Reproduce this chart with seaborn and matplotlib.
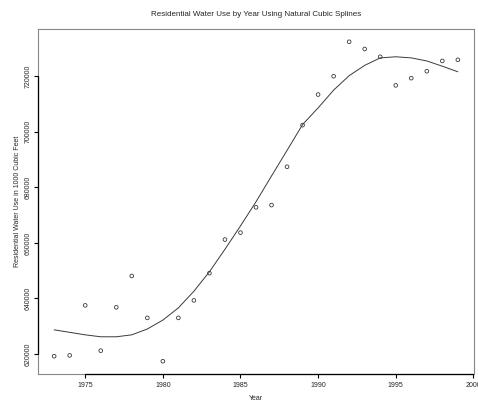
import numpy as np
import pandas as pd
import seaborn as sns
import matplotlib
matplotlib.use("Agg")
import matplotlib.pyplot as plt

# Residential water use (1000 cubic feet) by year
years = [1973, 1974, 1975, 1976, 1977, 1978, 1979, 1980, 1981, 1982, 1983,
         1984, 1985, 1986, 1987, 1988, 1989, 1990, 1991, 1992, 1993, 1994,
         1995, 1996, 1997, 1998, 1999]
water_use = [619200, 619500, 637500, 621200, 636800, 648100, 633000, 617400,
             633000, 639300, 649100, 661200, 663700, 672800, 673600, 687400,
             702400, 713400, 720000, 732400, 729800, 727000, 716700, 719300,
             721800, 725500, 725900]
# natural cubic spline fitted values at each year
spline_fit = [628700, 627800, 626900, 626200, 626200, 626900, 629000, 632200,
              636600, 642600, 649600, 657700, 666100, 674800, 684100, 693300,
              702600, 708600, 715000, 720200, 723900, 726600, 727000, 726600,
              725500, 723600, 721600]
x_ticks = [1975, 1980, 1985, 1990, 1995, 2000]
y_ticks = [620000, 640000, 660000, 680000, 700000, 720000]

df = pd.DataFrame({"Year": years, "Use": water_use, "Fit": spline_fit})

sns.set_style("white")
plt.rcParams["font.family"] = ["Liberation Sans", "DejaVu Sans"]

fig = plt.figure(figsize=(4.78, 4.01), dpi=100)
ax = fig.add_axes([38 / 478, 27 / 401, 436 / 478, 345 / 401])

sns.scatterplot(data=df, x="Year", y="Use", ax=ax, marker="o", s=7,
                facecolor="none", edgecolor="#3a3a3a", linewidth=0.6)
sns.lineplot(data=df, x="Year", y="Fit", ax=ax, color="#3a3a3a",
             linewidth=0.7)

xmin, xmax = 1971.96, 2000.04
ymin, ymax = 612800, 737000
ax.set_xlim(xmin, xmax)
ax.set_ylim(ymin, ymax)
ax.set_xticks(x_ticks)
ax.set_yticks(y_ticks)
ax.set_xticklabels([str(t) for t in x_ticks], fontsize=5)
ax.set_yticklabels([str(t) for t in y_ticks], fontsize=5, rotation=90,
                   va="center")
ax.tick_params(axis="both", direction="out", length=3, width=0.8,
               color="black", bottom=True, left=True)
ax.tick_params(axis="x", pad=3)
ax.tick_params(axis="y", pad=1.5)

for side in ["top", "right", "bottom", "left"]:
    ax.spines[side].set_color("#888888")
    ax.spines[side].set_linewidth(0.8)

# axis lines spanning the tick range
ax.plot([x_ticks[0], x_ticks[-1]], [ymin, ymin], color="black",
        linewidth=0.9, clip_on=False, zorder=5)
ax.plot([xmin, xmin], [y_ticks[0], y_ticks[-1]], color="black",
        linewidth=0.9, clip_on=False, zorder=5)

ax.set_xlabel("Year", fontsize=5, labelpad=4)
ax.set_ylabel("Residential Water Use in 1000 Cubic Feet", fontsize=5,
              labelpad=3)
ax.set_title("Residential Water Use by Year Using Natural Cubic Splines",
             fontsize=5.8, pad=9)

fig.savefig("out.png", dpi=100, facecolor="white")
